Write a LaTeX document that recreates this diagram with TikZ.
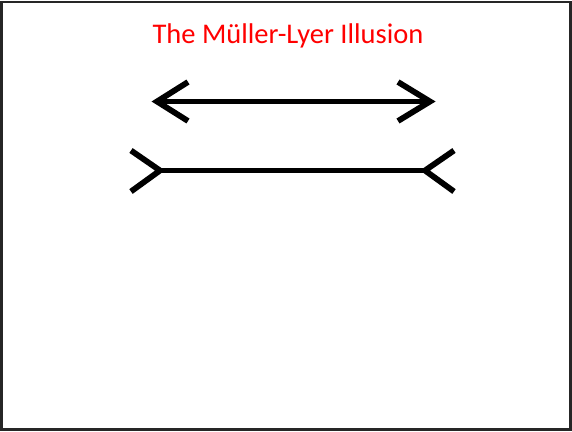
\documentclass[tikz,border=0pt]{standalone}
\usepackage{fontspec}
\setmainfont{Carlito}
\begin{document}
\begin{tikzpicture}[x=1pt,y=-1pt,
  fig/.style={line width=5.8pt,black,line cap=butt,line join=miter},
  title/.style={text=red,font=\fontsize{28.5}{32}\selectfont,inner sep=0pt,anchor=base}]
\useasboundingbox (0,0) rectangle (572,431);
\draw[line width=2.5pt,black!85] (1.5,2) rectangle (570.5,429.5);
\node[title] (t) at (288,43.5) {The Müller-Lyer Illusion};
% top arrow
\coordinate (a1) at (157,101.5);
\coordinate (a2) at (430,101.5);
\draw[fig] (a1) -- (a2);
\draw[fig] (188,82) -- (a1) -- (188,121);
\draw[fig] (398,82) -- (a2) -- (398,121);
% bottom figure
\coordinate (b1) at (160,170.5);
\coordinate (b2) at (425,170.5);
\draw[fig] (b1) -- (b2);
\draw[fig] (131,150.5) -- (b1) -- (131,191.5);
\draw[fig] (454,150.5) -- (b2) -- (454,191.5);
\end{tikzpicture}
\end{document}
